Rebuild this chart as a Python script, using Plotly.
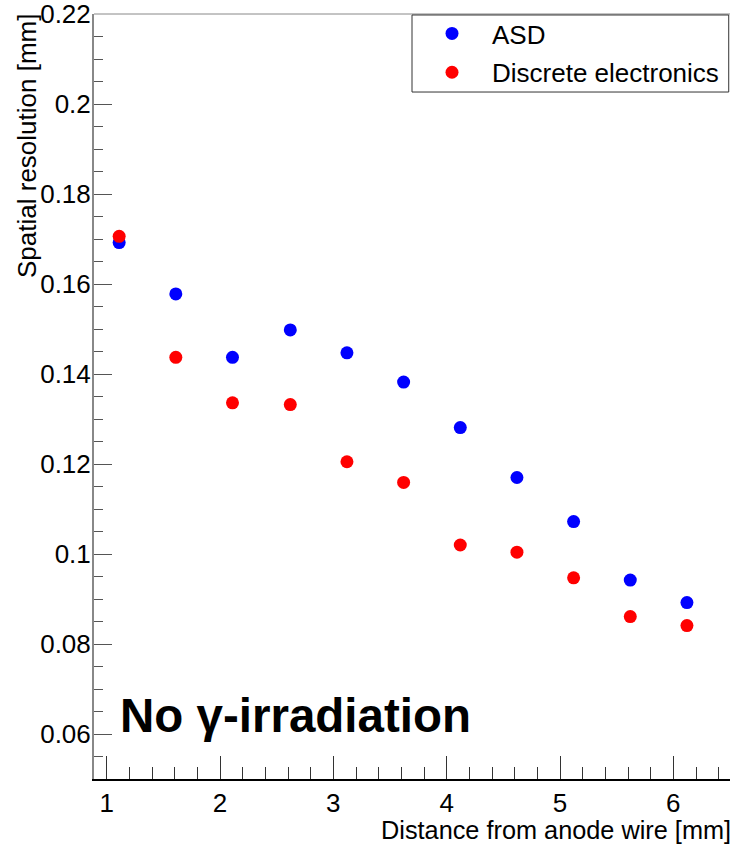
import plotly.graph_objects as go

# Data
distance = [1.11, 1.61, 2.11, 2.62, 3.12, 3.62, 4.12, 4.62, 5.12, 5.62, 6.12]
asd_resolution = [0.1692, 0.1578, 0.1437, 0.1498, 0.1447, 0.1382, 0.1281, 0.1170, 0.1072, 0.0942, 0.0892]
discrete_resolution = [0.1706, 0.1437, 0.1336, 0.1332, 0.1205, 0.1159, 0.1020, 0.1004, 0.0947, 0.0861, 0.0841]

x_range = [0.888, 6.5]
y_range = [0.05, 0.220001]
y_tickvals = [0.06, 0.08, 0.10, 0.12, 0.14, 0.16, 0.18, 0.20, 0.22]
y_ticktext = ["0.06", "0.08", "0.1", "0.12", "0.14", "0.16", "0.18", "0.2", "0.22"]

FONT = "Liberation Sans, Arial, Helvetica, sans-serif"
FS = 26

fig = go.Figure()
fig.add_trace(go.Scatter(
    x=distance, y=asd_resolution, mode="markers", name="ASD", legendgroup="a",
    marker=dict(color="#0000ff", size=13, line=dict(width=0)),
))
fig.add_trace(go.Scatter(
    x=distance, y=discrete_resolution, mode="markers", name="Discrete electronics",
    legendgroup="b",
    marker=dict(color="#ff0000", size=13, line=dict(width=0)),
))

fig.update_layout(
    width=730, height=846,
    margin=dict(l=94, r=0, t=14, b=67),
    plot_bgcolor="white", paper_bgcolor="white",
    font=dict(family=FONT, size=FS, color="black"),
    showlegend=True,
    legend=dict(
        x=0.5, xanchor="left", y=1.0078 - 2 / 765, yanchor="top",
        bgcolor="rgba(0,0,0,0)", borderwidth=0,
        font=dict(family=FONT, size=FS, color="black"),
        itemwidth=70, tracegroupgap=2,
    ),
    xaxis=dict(
        range=x_range, showgrid=False, zeroline=False,
        showline=True, linecolor="black", linewidth=2,
        mirror=False,
        ticks="inside", ticklen=23, tickcolor="#333333", tickwidth=1,
        dtick=1, tick0=0,
        tickfont=dict(family=FONT, size=FS, color="black"),
        minor=dict(ticks="inside", ticklen=12, dtick=0.2, tick0=0, tickcolor="#333333", tickwidth=1),
    ),
    yaxis=dict(
        range=y_range, showgrid=False, zeroline=False,
        showline=True, linecolor="#888888", linewidth=2,
        ticks="inside", ticklen=18, tickcolor="#555555", tickwidth=1,
        tickmode="array", tickvals=y_tickvals, ticktext=y_ticktext,
        ticklabelstandoff=-4, ticklabeloverflow="allow",
        tickfont=dict(family=FONT, size=FS, color="black"),
        minor=dict(ticks="inside", ticklen=9, dtick=0.005, tick0=0, tickcolor="#555555", tickwidth=1),
    ),
)

# top frame line
fig.add_shape(type="line", xref="paper", yref="paper", x0=0, x1=1, y0=1, y1=1,
              line=dict(color="#888888", width=1))
# legend box
fig.add_shape(type="rect", xref="paper", yref="paper", x0=0.5, x1=0.998, y0=0.898, y1=0.9987,
              line=dict(color="#333333", width=1), fillcolor="rgba(0,0,0,0)")

# axis titles (ROOT style, right/top aligned)
fig.add_annotation(
    text="Distance from anode wire [mm]", xref="paper", yref="paper",
    x=1, y=0, xanchor="right", yanchor="top", yshift=-35, xshift=3,
    showarrow=False, font=dict(family=FONT, size=25.3, color="black"),
)
fig.add_annotation(
    text="Spatial resolution [mm]", xref="paper", yref="paper",
    x=0, y=1, xanchor="center", yanchor="top", xshift=-67, yshift=2, textangle=-90,
    showarrow=False, font=dict(family=FONT, size=26, color="black"),
)
fig.add_annotation(
    text="<b>No γ-irradiation</b>", xref="paper", yref="paper",
    x=0.037, y=0.083, xanchor="left", yanchor="middle",
    showarrow=False, font=dict(family=FONT, size=47.5, color="black"),
)

fig.write_html("out.html")
